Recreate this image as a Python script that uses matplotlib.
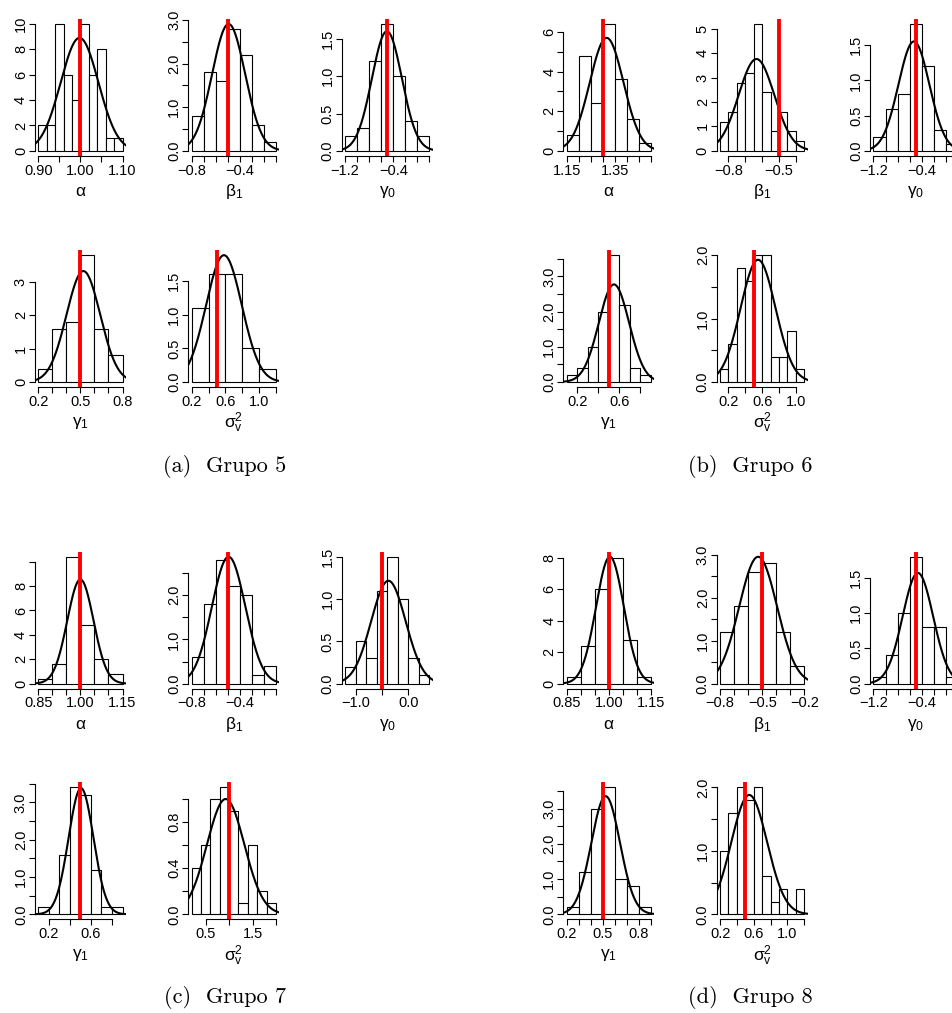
import numpy as np
import matplotlib
matplotlib.use('Agg')
import matplotlib.pyplot as plt

plt.rcParams['font.family'] = 'Liberation Sans'
plt.rcParams['mathtext.fontset'] = 'custom'
plt.rcParams['mathtext.rm'] = 'Liberation Sans'
plt.rcParams['mathtext.default'] = 'regular'

W, H = 953, 1013

param_labels = [r'$\alpha$', r'$\beta_1$', r'$\gamma_0$', r'$\gamma_1$', r'$\sigma^2_v$']
captions = ['(a)  Grupo 5', '(b)  Grupo 6', '(c)  Grupo 7', '(d)  Grupo 8']

# ---- Grupo 5 ----
g5_edges = [
    [0.90, 0.92, 0.94, 0.96, 0.98, 1.00, 1.02, 1.04, 1.06, 1.08, 1.10],
    [-0.8, -0.7, -0.6, -0.5, -0.4, -0.3, -0.2, -0.1],
    [-1.2, -1.0, -0.8, -0.6, -0.4, -0.2, 0.0, 0.2],
    [0.2, 0.3, 0.4, 0.5, 0.6, 0.7, 0.8],
    [0.2, 0.4, 0.6, 0.8, 1.0, 1.2],
]
g5_dens = [
    [2, 2, 10, 6, 4, 10, 6, 8, 1, 1],
    [0.8, 1.8, 1.6, 2.8, 2.2, 0.6, 0.2],
    [0.2, 0.3, 1.2, 1.7, 1.0, 0.4, 0.2],
    [0.4, 1.6, 1.8, 3.8, 1.6, 0.8],
    [1.1, 1.6, 1.6, 0.5, 0.2],
]
g5_mean = [0.998, -0.493, -0.505, 0.521, 0.583]
g5_sd = [0.0448, 0.137, 0.249, 0.120, 0.212]
g5_true = [1.0, -0.5, -0.5, 0.5, 0.5]
g5_xticks = [
    [0.90, 0.95, 1.00, 1.05, 1.10],
    [-0.8, -0.7, -0.6, -0.5, -0.4, -0.3, -0.2, -0.1],
    [-1.2, -1.0, -0.8, -0.6, -0.4, -0.2, 0.0, 0.2],
    [0.2, 0.3, 0.4, 0.5, 0.6, 0.7, 0.8],
    [0.2, 0.4, 0.6, 0.8, 1.0, 1.2],
]
g5_xshow = [[0.90, 1.00, 1.10], [-0.8, -0.4], [-1.2, -0.4], [0.2, 0.5, 0.8], [0.2, 0.6, 1.0]]
g5_yticks = [
    [0, 2, 4, 6, 8, 10],
    [0.0, 0.5, 1.0, 1.5, 2.0, 2.5, 3.0],
    [0.0, 0.5, 1.0, 1.5],
    [0, 1, 2, 3],
    [0.0, 0.5, 1.0, 1.5],
]
g5_yshow = [[0, 2, 4, 6, 8, 10], [0.0, 1.0, 2.0, 3.0], [0.0, 0.5, 1.0, 1.5], [0, 1, 2, 3], [0.0, 0.5, 1.0, 1.5]]

# ---- Grupo 6 ----
g6_edges = [
    [1.15, 1.20, 1.25, 1.30, 1.35, 1.40, 1.45, 1.50],
    [-0.85, -0.80, -0.75, -0.70, -0.65, -0.60, -0.55, -0.50, -0.45, -0.40, -0.35],
    [-1.2, -1.0, -0.8, -0.6, -0.4, -0.2, 0.0, 0.2],
    [0.1, 0.2, 0.3, 0.4, 0.5, 0.6, 0.7, 0.8, 0.9],
    [0.1, 0.2, 0.3, 0.4, 0.5, 0.6, 0.7, 0.8, 0.9, 1.0, 1.1],
]
g6_dens = [
    [0.8, 4.8, 2.4, 6.4, 3.6, 1.6, 0.4],
    [1.2, 1.6, 2.8, 3.2, 5.2, 2.4, 0.8, 1.6, 0.8, 0.4],
    [0.2, 0.6, 0.8, 1.8, 1.2, 0.3, 0.1],
    [0.2, 0.4, 1.0, 2.0, 3.6, 2.2, 0.4, 0.2],
    [0.2, 0.6, 1.8, 1.6, 2.0, 2.0, 0.4, 0.4, 0.8, 0.2],
]
g6_mean = [1.316, -0.634, -0.528, 0.549, 0.551]
g6_sd = [0.070, 0.106, 0.257, 0.144, 0.207]
g6_true = [1.3, -0.5, -0.5, 0.5, 0.5]
g6_xticks = [
    [1.15, 1.20, 1.25, 1.30, 1.35, 1.40, 1.45, 1.50],
    [-0.8, -0.7, -0.6, -0.5, -0.4],
    [-1.2, -1.0, -0.8, -0.6, -0.4, -0.2, 0.0, 0.2],
    [0.2, 0.4, 0.6, 0.8],
    [0.2, 0.4, 0.6, 0.8, 1.0],
]
g6_xshow = [[1.15, 1.35], [-0.8, -0.5], [-1.2, -0.4], [0.2, 0.6], [0.2, 0.6, 1.0]]
g6_yticks = [
    [0, 1, 2, 3, 4, 5, 6],
    [0, 1, 2, 3, 4, 5],
    [0.0, 0.5, 1.0, 1.5],
    [0.0, 0.5, 1.0, 1.5, 2.0, 2.5, 3.0, 3.5],
    [0.0, 0.5, 1.0, 1.5, 2.0],
]
g6_yshow = [[0, 2, 4, 6], [0, 1, 2, 3, 4, 5], [0.0, 0.5, 1.0, 1.5], [0.0, 1.0, 2.0, 3.0], [0.0, 1.0, 2.0]]

# ---- Grupo 7 ----
g7_edges = [
    [0.85, 0.90, 0.95, 1.00, 1.05, 1.10, 1.15],
    [-0.8, -0.7, -0.6, -0.5, -0.4, -0.3, -0.2, -0.1],
    [-1.2, -1.0, -0.8, -0.6, -0.4, -0.2, 0.0, 0.2, 0.4],
    [0.1, 0.2, 0.3, 0.4, 0.5, 0.6, 0.7, 0.8, 0.9],
    [0.2, 0.4, 0.6, 0.8, 1.0, 1.2, 1.4, 1.6, 1.8, 2.0],
]
g7_dens = [
    [0.4, 1.6, 10.4, 4.8, 2.0, 0.8],
    [0.6, 1.8, 2.8, 2.2, 2.0, 0.2, 0.4],
    [0.2, 0.5, 0.3, 1.1, 1.5, 1.0, 0.3, 0.1],
    [0.2, 0.0, 1.6, 3.4, 3.2, 1.2, 0.2, 0.2],
    [0.4, 0.6, 1.0, 1.1, 0.9, 0.1, 0.6, 0.2, 0.1],
]
g7_mean = [1.000, -0.493, -0.377, 0.506, 0.926]
g7_sd = [0.0467, 0.139, 0.328, 0.118, 0.399]
g7_true = [1.0, -0.5, -0.5, 0.5, 1.0]
g7_xticks = [
    [0.85, 0.90, 0.95, 1.00, 1.05, 1.10, 1.15],
    [-0.8, -0.7, -0.6, -0.5, -0.4, -0.3, -0.2, -0.1],
    [-1.0, -0.5, 0.0],
    [0.2, 0.4, 0.6, 0.8],
    [0.5, 1.0, 1.5, 2.0],
]
g7_xshow = [[0.85, 1.00, 1.15], [-0.8, -0.4], [-1.0, 0.0], [0.2, 0.6], [0.5, 1.5]]
g7_yticks = [
    [0, 2, 4, 6, 8, 10],
    [0.0, 0.5, 1.0, 1.5, 2.0, 2.5],
    [0.0, 0.5, 1.0, 1.5],
    [0.0, 0.5, 1.0, 1.5, 2.0, 2.5, 3.0, 3.5],
    [0.0, 0.2, 0.4, 0.6, 0.8, 1.0],
]
g7_yshow = [[0, 2, 4, 6, 8], [0.0, 1.0, 2.0], [0.0, 0.5, 1.0, 1.5], [0.0, 1.0, 2.0, 3.0], [0.0, 0.4, 0.8]]

# ---- Grupo 8 ----
g8_edges = [
    [0.85, 0.90, 0.95, 1.00, 1.05, 1.10, 1.15],
    [-0.8, -0.7, -0.6, -0.5, -0.4, -0.3, -0.2],
    [-1.2, -1.0, -0.8, -0.6, -0.4, -0.2, 0.0, 0.2],
    [0.2, 0.3, 0.4, 0.5, 0.6, 0.7, 0.8, 0.9],
    [0.2, 0.3, 0.4, 0.5, 0.6, 0.7, 0.8, 0.9, 1.0, 1.1, 1.2],
]
g8_dens = [
    [0.4, 2.4, 6.0, 8.0, 2.8, 0.4],
    [1.2, 1.8, 2.6, 2.8, 1.2, 0.4],
    [0.1, 0.4, 1.0, 1.8, 0.8, 0.8, 0.1],
    [0.2, 1.2, 3.0, 3.6, 1.0, 0.8, 0.2],
    [1.0, 1.6, 2.0, 1.8, 2.0, 0.6, 0.2, 0.4, 0.0, 0.4],
]
g8_mean = [1.004, -0.529, -0.462, 0.524, 0.546]
g8_sd = [0.0494, 0.135, 0.254, 0.119, 0.212]
g8_true = [1.0, -0.5, -0.5, 0.5, 0.5]
g8_xticks = [
    [0.85, 0.90, 0.95, 1.00, 1.05, 1.10, 1.15],
    [-0.8, -0.7, -0.6, -0.5, -0.4, -0.3, -0.2],
    [-1.2, -1.0, -0.8, -0.6, -0.4, -0.2, 0.0, 0.2],
    [0.2, 0.3, 0.4, 0.5, 0.6, 0.7, 0.8, 0.9],
    [0.2, 0.4, 0.6, 0.8, 1.0, 1.2],
]
g8_xshow = [[0.85, 1.00, 1.15], [-0.8, -0.5, -0.2], [-1.2, -0.4], [0.2, 0.5, 0.8], [0.2, 0.6, 1.0]]
g8_yticks = [
    [0, 2, 4, 6, 8],
    [0.0, 0.5, 1.0, 1.5, 2.0, 2.5, 3.0],
    [0.0, 0.5, 1.0, 1.5],
    [0.0, 0.5, 1.0, 1.5, 2.0, 2.5, 3.0, 3.5],
    [0.0, 0.5, 1.0, 1.5, 2.0],
]
g8_yshow = [[0, 2, 4, 6, 8], [0.0, 1.0, 2.0, 3.0], [0.0, 0.5, 1.0, 1.5], [0.0, 1.0, 2.0, 3.0], [0.0, 1.0, 2.0]]

groups = [
    (g5_edges, g5_dens, g5_mean, g5_sd, g5_true, g5_xticks, g5_xshow, g5_yticks, g5_yshow),
    (g6_edges, g6_dens, g6_mean, g6_sd, g6_true, g6_xticks, g6_xshow, g6_yticks, g6_yshow),
    (g7_edges, g7_dens, g7_mean, g7_sd, g7_true, g7_xticks, g7_xshow, g7_yticks, g7_yshow),
    (g8_edges, g8_dens, g8_mean, g8_sd, g8_true, g8_xticks, g8_xshow, g8_yticks, g8_yshow),
]

# layout in pixels (plot regions, R style)
PW, PH = 91.0, 137.0
col_left = [34.9, 188.3, 341.7]
group_x = [0, 528.4, 0, 528.4]
group_rows = [[18.9, 250.1], [18.9, 250.1], [551.7, 782.4], [551.7, 782.4]]
cap_pos = [(225, 466), (750, 466), (225, 997), (750, 997)]
slots = [(0, 0), (0, 1), (0, 2), (1, 0), (1, 1)]


def decimals(vals):
    for d in range(4):
        if all(abs(round(v, d) - v) < 1e-9 for v in vals):
            return d
    return 3


def fmt(v, d):
    return f'{v:.{d}f}'.replace('-', '\u2212')


def labels_for(ticks, shown):
    d = decimals(ticks)
    return [fmt(v, d) if any(abs(v - s) < 1e-9 for s in shown) else '' for v in ticks]


fig = plt.figure(figsize=(W / 100, H / 100), dpi=100)

for g, (edges, dens, mean, sd, true, xt, xs, yt, ys) in enumerate(groups):
    for i in range(5):
        r, c = slots[i]
        left = group_x[g] + col_left[c]
        top = group_rows[g][r]
        ax = fig.add_axes([left / W, 1 - (top + PH) / H, PW / W, PH / H])
        e = np.array(edges[i])
        pad = 0.04 * (e[-1] - e[0])
        peak = 1 / (sd[i] * np.sqrt(2 * np.pi))
        m = max(max(dens[i]), peak)
        ax.set_xlim(e[0] - pad, e[-1] + pad)
        ax.set_ylim(-0.04 * m, 1.04 * m)
        ax.bar(e[:-1], dens[i], width=np.diff(e), align='edge',
               facecolor='white', edgecolor='black', linewidth=0.8)
        x = np.linspace(e[0] - pad, e[-1] + pad, 300)
        ax.plot(x, peak * np.exp(-0.5 * ((x - mean[i]) / sd[i]) ** 2), color='black', lw=1.5)
        ax.axvline(true[i], color='red', lw=2.8)

        ax.spines[['top', 'right']].set_visible(False)
        ax.spines['left'].set_bounds(yt[i][0], yt[i][-1])
        ax.spines['bottom'].set_bounds(xt[i][0], xt[i][-1])
        for s in ('left', 'bottom'):
            ax.spines[s].set_linewidth(0.8)
        ax.set_xticks(xt[i], labels=labels_for(xt[i], xs[i]))
        ax.set_yticks(yt[i], labels=labels_for(yt[i], ys[i]), rotation=90, va='center')
        ax.tick_params(direction='out', length=4, width=0.8, labelsize=10.5)
        ax.tick_params(axis='x', pad=1.5)
        ax.tick_params(axis='y', pad=1.0)

        fig.text((left + PW / 2) / W, 1 - (top + PH + 36) / H, param_labels[i],
                 ha='center', va='center', fontsize=12.5)

    cx, cy = cap_pos[g]
    fig.text(cx / W, 1 - cy / H, captions[g], family='cmr10', fontsize=16,
             ha='center', va='center')

fig.savefig('out.png', dpi=100)
